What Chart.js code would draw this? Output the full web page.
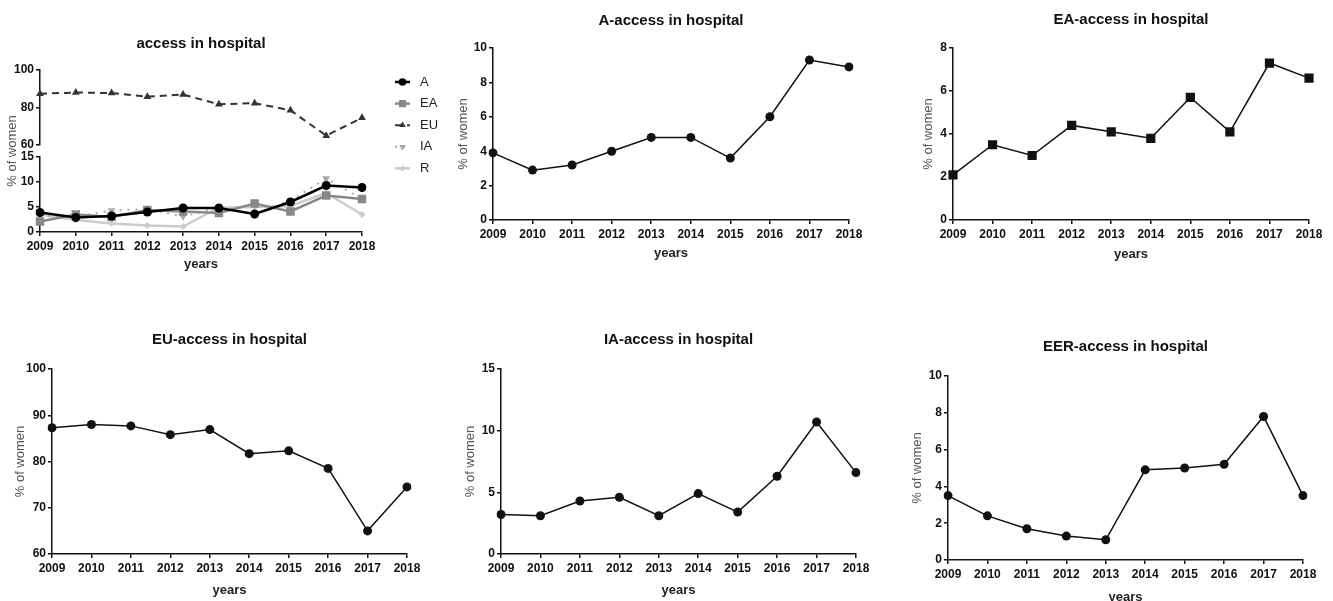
<!DOCTYPE html>
<html>
<head>
<meta charset="utf-8">
<title>access in hospital</title>
<script src="https://cdn.jsdelivr.net/npm/chart.js@4/dist/chart.umd.min.js"></script>
<style>
  html, body { margin: 0; padding: 0; background: #fff; }
  body { width: 1333px; height: 601px; position: relative; overflow: hidden; }
  canvas { position: absolute; }
</style>
</head>
<body>
<canvas id="cAll"></canvas>
<canvas id="cA"></canvas>
<canvas id="cEA"></canvas>
<canvas id="cEU"></canvas>
<canvas id="cIA"></canvas>
<canvas id="cEER"></canvas>
<script>
// years on the x axis
const years = ['2009', '2010', '2011', '2012', '2013', '2014', '2015', '2016', '2017', '2018'];

// % of women per group
const valuesA   = [3.9, 2.9, 3.2, 4.0, 4.8, 4.8, 3.6, 6.0, 9.3, 8.9];
const valuesEA  = [2.1, 3.5, 3.0, 4.4, 4.1, 3.8, 5.7, 4.1, 7.3, 6.6];
const valuesEU  = [87.3, 88.0, 87.7, 85.8, 86.9, 81.7, 82.3, 78.5, 65.0, 74.5];
const valuesIA  = [3.2, 3.1, 4.3, 4.6, 3.1, 4.9, 3.4, 6.3, 10.7, 6.6];
const valuesEER = [3.5, 2.4, 1.7, 1.3, 1.1, 4.9, 5.0, 5.2, 7.8, 3.5];

// y ranges: [min, max, step]
const rangeA     = [0, 10, 2];
const rangeEA    = [0, 8, 2];
const rangeEU    = [60, 100, 10];
const rangeIA    = [0, 15, 5];
const rangeEER   = [0, 10, 2];
const rangeUpper = [60, 100, 20];
const rangeLower = [0, 15, 5];

const FONT = "'Liberation Sans', Arial, sans-serif";
const INK = '#111';

// canvas box, plot box and label centres of each panel (page pixels)
const boxes = {
  all: { x: 0,   y: 0,   w: 440, h: 275, plotL: 40,  plotR: 362,  plotT: 70,  plotB: 232, titleY: 43.5, yTitleX: 12,  yearsY: 264 },
  A:   { x: 440, y: 0,   w: 440, h: 265, plotL: 493, plotR: 849,  plotT: 48,  plotB: 220, titleY: 21,   yTitleX: 463, yearsY: 253 },
  EA:  { x: 880, y: 0,   w: 453, h: 265, plotL: 953, plotR: 1309, plotT: 48,  plotB: 220, titleY: 20,   yTitleX: 928, yearsY: 254 },
  EU:  { x: 0,   y: 300, w: 440, h: 301, plotL: 52,  plotR: 407,  plotT: 369, plotB: 554, titleY: 340,  yTitleX: 20,  yearsY: 590 },
  IA:  { x: 440, y: 300, w: 440, h: 301, plotL: 501, plotR: 856,  plotT: 369, plotB: 554, titleY: 340,  yTitleX: 470, yearsY: 590 },
  EER: { x: 880, y: 300, w: 453, h: 310, plotL: 948, plotR: 1303, plotT: 376, plotB: 560, titleY: 347,  yTitleX: 917, yearsY: 597 }
};

function place(id, g) {
  const c = document.getElementById(id);
  c.width = g.w; c.height = g.h;
  c.style.left = g.x + 'px'; c.style.top = g.y + 'px';
  c.style.width = g.w + 'px'; c.style.height = g.h + 'px';
  return c;
}

const tickFont = { family: FONT, size: 12, weight: 'bold' };

function yAxis(g, range, extra) {
  return Object.assign({
    type: 'linear',
    position: 'left',
    min: range[0],
    max: range[1],
    ticks: { stepSize: range[2], color: INK, font: tickFont, padding: 2 },
    grid: { drawOnChartArea: false, tickLength: 4, color: INK, lineWidth: 1.5 },
    border: { color: INK, width: 1.5 },
    title: {
      display: true, text: '% of women', color: '#555',
      font: { family: FONT, size: 13 },
      padding: { top: g.yTitleX - g.x - 7.8, bottom: 0 }
    },
    afterFit: s => { s.width = g.plotL - g.x; }
  }, extra || {});
}

function xAxis(g) {
  return {
    type: 'category',
    offset: false,
    ticks: { color: INK, font: tickFont, padding: 3, autoSkip: false, maxRotation: 0 },
    grid: { drawOnChartArea: false, tickLength: 4, color: INK, lineWidth: 1.5 },
    border: { color: INK, width: 1.5 },
    title: {
      display: true, text: 'years', color: '#222',
      font: { family: FONT, size: 13, weight: 'bold' },
      padding: { top: 0, bottom: g.y + g.h - g.yearsY - 7.8 }
    },
    afterFit: s => { s.height = g.y + g.h - g.plotB; }
  };
}

function baseOptions(g, text) {
  const padTop = g.titleY - g.y - 9;
  return {
    responsive: false,
    animation: false,
    layout: { padding: { left: 0, top: 0, bottom: 0, right: g.x + g.w - g.plotR } },
    plugins: {
      legend: { display: false },
      tooltip: { enabled: false },
      title: {
        display: true, text: text, fullSize: false, color: INK,
        font: { family: FONT, size: 15, weight: 'bold' },
        padding: { top: padTop, bottom: g.plotT - g.y - 18 - padTop }
      }
    }
  };
}

// single-group panels
function singlePanel(id, g, text, values, range, marker, radius) {
  const opts = baseOptions(g, text);
  opts.scales = { x: xAxis(g), y: yAxis(g, range) };
  new Chart(place(id, g), {
    type: 'line',
    data: {
      labels: years,
      datasets: [{
        data: values,
        borderColor: INK,
        borderWidth: 1.5,
        tension: 0,
        pointStyle: marker,
        pointRadius: radius,
        pointBackgroundColor: INK,
        pointBorderColor: INK,
        pointBorderWidth: 0
      }]
    },
    options: opts
  });
}

singlePanel('cA',   boxes.A,   'A-access in hospital',   valuesA,   rangeA,   'circle', 4.5);
singlePanel('cEA',  boxes.EA,  'EA-access in hospital',  valuesEA,  rangeEA,  'rect',   6.5);
singlePanel('cEU',  boxes.EU,  'EU-access in hospital',  valuesEU,  rangeEU,  'circle', 4.5);
singlePanel('cIA',  boxes.IA,  'IA-access in hospital',  valuesIA,  rangeIA,  'circle', 4.5);
singlePanel('cEER', boxes.EER, 'EER-access in hospital', valuesEER, rangeEER, 'circle', 4.5);

// key on the right of the combined panel: line sample, marker, label
const seriesKey = {
  id: 'seriesKey',
  afterDraw(chart, args, o) {
    const { ctx, chartArea } = chart;
    const x0 = chartArea.right + o.offsetX;
    chart.data.datasets.forEach((ds, i) => {
      const y = chartArea.top + o.offsetY + i * o.rowGap;
      ctx.save();
      ctx.strokeStyle = ds.borderColor;
      ctx.lineWidth = ds.borderWidth;
      ctx.setLineDash(ds.borderDash || []);
      ctx.beginPath();
      ctx.moveTo(x0, y);
      ctx.lineTo(x0 + 15, y);
      ctx.stroke();
      ctx.setLineDash([]);
      ctx.fillStyle = ds.pointBackgroundColor;
      ctx.strokeStyle = ds.pointBorderColor;
      Chart.helpers.drawPoint(ctx, {
        pointStyle: ds.pointStyle,
        radius: ds.pointRadius * 0.85,
        rotation: ds.pointRotation || 0,
        borderWidth: 0
      }, x0 + 7.5, y);
      ctx.fillStyle = '#222';
      ctx.font = '13px ' + FONT;
      ctx.textBaseline = 'middle';
      ctx.textAlign = 'left';
      ctx.fillText(ds.label, x0 + 25, y);
      ctx.restore();
    });
  }
};

// combined panel with a broken y axis (60-100 above, 0-15 below)
(function () {
  const g = boxes.all;
  const opts = baseOptions(g, 'access in hospital');
  opts.plugins.seriesKey = { offsetX: 33, offsetY: 12, rowGap: 21.6 };
  const noTitle = { display: false };
  opts.scales = {
    x: xAxis(g),
    yUpper: yAxis(g, rangeUpper, { stack: 'all', stackWeight: 75, weight: 2, title: noTitle }),
    yGap: {
      type: 'linear', position: 'left', stack: 'all', stackWeight: 12, weight: 1,
      min: 0, max: 1,
      ticks: { display: false },
      grid: { display: false },
      border: { display: false },
      title: {
        display: true, text: '% of women', color: '#555',
        font: { family: FONT, size: 13 },
        padding: { top: g.yTitleX - g.x - 7.8, bottom: 0 }
      },
      afterFit: s => { s.width = g.plotL - g.x; }
    },
    yLower: yAxis(g, rangeLower, { stack: 'all', stackWeight: 75, weight: 0, title: noTitle })
  };
  const line = (label, values, axis, color, width, dash, marker, radius, rot) => ({
    label: label,
    data: values,
    yAxisID: axis,
    borderColor: color,
    borderWidth: width,
    borderDash: dash,
    tension: 0,
    pointStyle: marker,
    pointRadius: radius,
    pointRotation: rot,
    pointBackgroundColor: color,
    pointBorderColor: color,
    pointBorderWidth: 0
  });
  new Chart(place('cAll', g), {
    type: 'line',
    data: {
      labels: years,
      datasets: [
        line('A',  valuesA,   'yLower', '#000', 2.5, [],     'circle',   4.5, 0),
        line('EA', valuesEA,  'yLower', '#888', 2.5, [],     'rect',     6,   0),
        line('EU', valuesEU,  'yUpper', '#333', 2,   [7, 5], 'triangle', 4.5, 0),
        line('IA', valuesIA,  'yLower', '#aaa', 2,   [2, 6], 'triangle', 4.5, 180),
        line('R',  valuesEER, 'yLower', '#ccc', 2.5, [],     'rectRot',  3.5, 0)
      ]
    },
    options: opts,
    plugins: [seriesKey]
  });
})();
</script>
</body>
</html>
